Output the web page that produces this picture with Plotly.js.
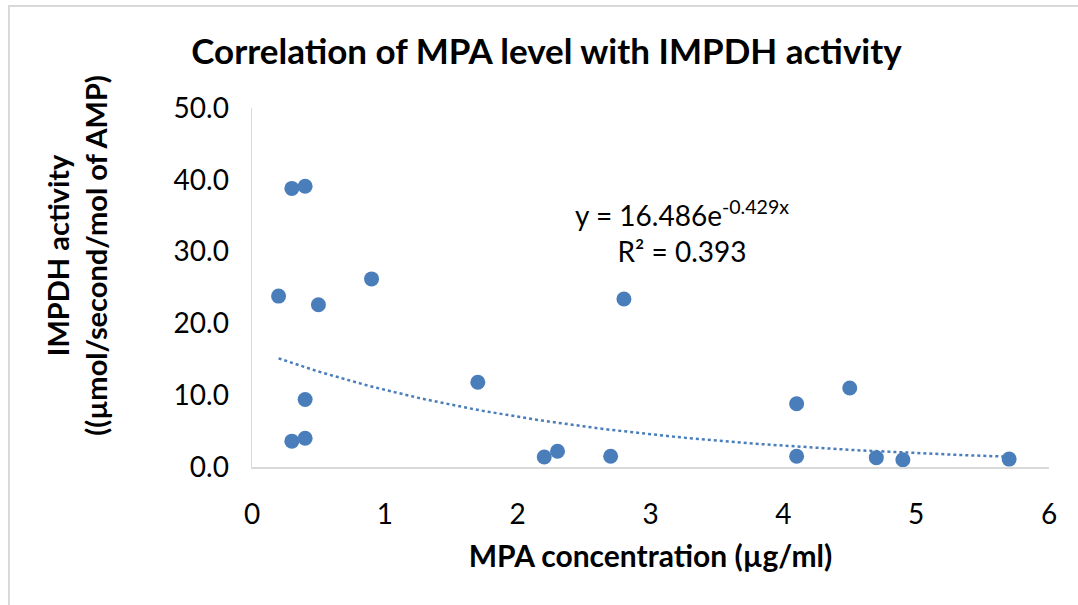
<!DOCTYPE html>
<html>
<head>
<meta charset="utf-8">
<script src="https://cdn.plot.ly/plotly-3.0.1.min.js"></script>
<style>
  html, body { margin: 0; padding: 0; background: #ffffff; overflow: hidden; }
  #frame { position: absolute; left: 8px; top: 5px; width: 1200px; height: 700px;
           border-left: 2px solid #d9d9d9; border-top: 2px solid #d9d9d9; }
  #chart { position: absolute; left: 0; top: 0; width: 1078px; height: 605px; }
</style>
</head>
<body>
<div id="frame"></div>
<div id="chart"></div>
<script>
// MPA concentration (µg/ml) and IMPDH activity for each sample
const mpaConc = [0.2, 0.3, 0.4, 0.5, 0.9, 0.4, 0.3, 0.4, 1.7, 2.2, 2.3, 2.7, 2.8, 4.1, 4.1, 4.5, 4.7, 4.9, 5.7];
const impdhActivity = [23.8, 38.8, 39.1, 22.6, 26.2, 9.4, 3.6, 4.0, 11.8, 1.4, 2.2, 1.5, 23.4, 8.8, 1.5, 11.0, 1.3, 1.0, 1.1];

// Exponential trendline y = a * e^(b x)
const fitA = 16.486;
const fitB = -0.429;
const fitR2 = 0.393;

const xTicks = [0, 1, 2, 3, 4, 5, 6];
const yTicks = [0, 10, 20, 30, 40, 50];

const xMin = Math.min(...mpaConc), xMax = Math.max(...mpaConc);
const trendX = [], trendY = [];
for (let i = 0; i <= 100; i++) {
  const x = xMin + (xMax - xMin) * i / 100;
  trendX.push(x);
  trendY.push(fitA * Math.exp(fitB * x));
}

const blue = '#4a7ebb';
const font = 'Lato, Carlito, Calibri, sans-serif';

const traces = [
  {
    x: trendX, y: trendY, type: 'scatter', mode: 'lines',
    line: { color: blue, width: 2.5, dash: 'dot' }, hoverinfo: 'skip'
  },
  {
    x: mpaConc, y: impdhActivity, type: 'scatter', mode: 'markers',
    marker: { color: blue, size: 15 }
  }
];

const layout = {
  width: 1078, height: 605,
  margin: { l: 252, r: 29, t: 108, b: 138 },
  paper_bgcolor: 'rgba(0,0,0,0)', plot_bgcolor: 'rgba(0,0,0,0)',
  showlegend: false,
  font: { family: font, color: '#000000', size: 28 },
  title: {
    text: '<b>Correlation of MPA level with IMPDH activity</b>',
    font: { family: font, size: 35, color: '#000000' },
    xref: 'container', x: 0.507, xanchor: 'center',
    yref: 'container', y: 0.915, yanchor: 'middle'
  },
  xaxis: {
    range: [0, 6], tickvals: xTicks, ticktext: xTicks.map(String),
    showgrid: false, zeroline: false, showline: true, linecolor: '#d9d9d9', linewidth: 1.5,
    ticks: '', ticklabelstandoff: 22,
    tickfont: { family: font, size: 28 },
    title: { text: '<b>MPA concentration (µg/ml)</b>', font: { family: font, size: 30 }, standoff: 17 }
  },
  yaxis: {
    range: [0, 50], tickvals: yTicks, ticktext: yTicks.map(v => v.toFixed(1)),
    showgrid: false, zeroline: false, showline: true, linecolor: '#d9d9d9', linewidth: 1.5,
    ticks: '', ticklabelstandoff: 16,
    tickfont: { family: font, size: 28 }
  },
  annotations: [
    {
      // y-axis title, set slightly above the plot's vertical centre
      xref: 'paper', yref: 'paper', x: -0.2202, y: 0.59, xanchor: 'center', yanchor: 'middle',
      textangle: -90, showarrow: false, align: 'center',
      text: '<b>IMPDH activity<br>((µmol/second/mol of AMP)</b>',
      font: { family: font, size: 29, color: '#000000' }
    },
    {
      xref: 'paper', yref: 'paper', x: 0.54, y: 0.655, xanchor: 'center', yanchor: 'middle',
      showarrow: false, align: 'center',
      text: 'y = ' + fitA.toFixed(3) + 'e<sup>' + fitB.toFixed(3) + 'x</sup><br>R² = ' + fitR2.toFixed(3),
      font: { family: font, size: 28, color: '#000000' }
    }
  ]
};

Plotly.newPlot('chart', traces, layout, { displayModeBar: false, staticPlot: true });
</script>
</body>
</html>
